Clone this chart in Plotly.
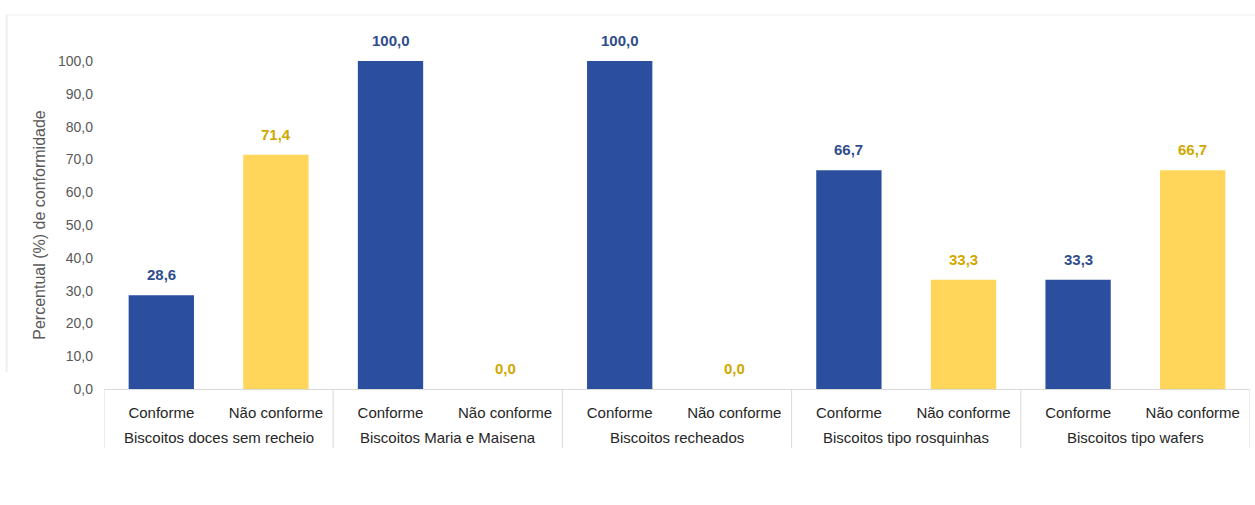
import plotly.graph_objects as go

# Product groups and conformity results (%)
grupos = [
    "Biscoitos doces sem recheio",
    "Biscoitos Maria e Maisena",
    "Biscoitos recheados",
    "Biscoitos tipo rosquinhas",
    "Biscoitos tipo wafers",
]
situacoes = ["Conforme", "Não conforme"]
conforme = [28.6, 100.0, 100.0, 66.7, 33.3]
nao_conforme = [71.4, 0.0, 0.0, 33.3, 66.7]
y_ticks = [0, 10, 20, 30, 40, 50, 60, 70, 80, 90, 100]

AZUL = "#2B4F9E"
AMARELO = "#FFD659"
TXT_AZUL = "#2F4D8C"
TXT_AMARELO = "#CFA800"
FONTE = "Liberation Sans"

n = len(grupos)
pos_conf = [2 * i for i in range(n)]
pos_nao = [2 * i + 1 for i in range(n)]

fig = go.Figure()
for pos, vals, cor, cor_txt, nome in [
    (pos_conf, conforme, AZUL, TXT_AZUL, situacoes[0]),
    (pos_nao, nao_conforme, AMARELO, TXT_AMARELO, situacoes[1]),
]:
    fig.add_trace(go.Bar(
        x=pos,
        y=vals,
        width=0.57,
        marker=dict(color=cor, line=dict(width=0)),
        name=nome,
    ))
    # Value labels above each bar
    for xp, v in zip(pos, vals):
        fig.add_annotation(
            x=xp, y=v, xref="x", yref="y",
            text="<b>" + f"{v:.1f}".replace(".", ",") + "</b>",
            showarrow=False, yanchor="bottom", yshift=10,
            font=dict(size=15, color=cor_txt, family=FONTE),
        )

# Group labels under the sub-category labels
for i, g in enumerate(grupos):
    fig.add_annotation(
        x=2 * i + 0.5, y=0, xref="x", yref="paper",
        text=g, showarrow=False, yanchor="middle", yshift=-48,
        font=dict(size=15, color="#262626", family=FONTE),
    )

# Dividers between groups
for k in range(n + 1):
    fig.add_shape(
        type="line", xref="x", yref="paper",
        x0=2 * k - 0.5, x1=2 * k - 0.5, y0=0, y1=-0.18,
        line=dict(color="#D9D9D9", width=1),
    )

# Faint frame edge at the top-left of the chart area
fig.add_shape(type="line", xref="paper", yref="paper",
              x0=-0.085, x1=1.01, y0=1.14, y1=1.14,
              line=dict(color="#EEEEEE", width=1))
fig.add_shape(type="line", xref="paper", yref="paper",
              x0=-0.085, x1=-0.085, y0=1.14, y1=0.05,
              line=dict(color="#EEEEEE", width=2))

fig.update_layout(
    width=1255,
    height=505,
    margin=dict(l=104, r=5, t=61, b=116),
    paper_bgcolor="white",
    plot_bgcolor="white",
    separators=",.",
    barmode="overlay",
    showlegend=False,
    font=dict(family=FONTE, size=15, color="#262626"),
)
fig.update_xaxes(
    range=[-0.5, 2 * n - 0.5],
    tickvals=pos_conf + pos_nao,
    ticktext=[situacoes[0]] * n + [situacoes[1]] * n,
    showline=True,
    linecolor="#D9D9D9",
    linewidth=1,
    showgrid=False,
    zeroline=False,
    ticks="",
    ticklabelstandoff=10,
    tickfont=dict(size=15, color="#262626"),
)
fig.update_yaxes(
    range=[0, 100],
    tickvals=y_ticks,
    tickformat=".1f",
    showgrid=False,
    zeroline=False,
    showline=False,
    ticks="",
    ticklabelstandoff=10,
    tickfont=dict(size=14, color="#595959"),
    title=dict(text="Percentual (%) de conformidade", font=dict(size=16, color="#595959"), standoff=8),
)

fig.write_html("out.html")
